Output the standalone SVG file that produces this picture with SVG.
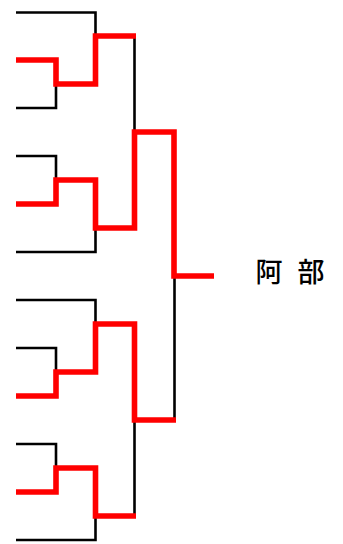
<svg xmlns="http://www.w3.org/2000/svg" width="343" height="544" viewBox="0 0 343 544">
<style>
.b{fill:none;stroke:#000;stroke-width:2.6;stroke-linejoin:miter;stroke-linecap:butt}
.r{fill:none;stroke:#ff0000;stroke-width:5.6;stroke-linejoin:miter;stroke-linecap:butt}
.name{font-family:"Noto Sans CJK JP","Noto Sans CJK SC",sans-serif;font-size:27px;font-weight:500;fill:#000;letter-spacing:4.5px}
</style>
<rect width="343" height="544" fill="#fff"/>
<g id="bracket-lines">
<path class="b" d="M16 12.5 H95.5 V36"/>
<path class="b" d="M16 108 H56 V84"/>
<path class="b" d="M16 156 H56 V180"/>
<path class="b" d="M16 252 H95.5 V228"/>
<path class="b" d="M134.5 36 V132"/>
<path class="b" d="M16 300 H95.5 V324"/>
<path class="b" d="M16 348 H56 V372"/>
<path class="b" d="M174.5 276 V420"/>
<path class="b" d="M16 444 H56 V468"/>
<path class="b" d="M16 540 H95.5 V516"/>
<path class="b" d="M134.5 420 V516"/>
</g>
<g id="winner-lines">
<path class="r" d="M16 60 H56 V84 H95.5 V36 H136"/>
<path class="r" d="M16 204 H56 V180 H95.5 V228 H134.5 V132 H174 V276 H214"/>
<path class="r" d="M16 396 H56 V372 H95.5 V324 H134.5 V420 H176"/>
<path class="r" d="M16 492 H56 V468 H95.5 V516 H136"/>
</g>
<g id="champion">
<text class="name" x="255.5" y="282">阿 部</text>
</g>
</svg>
